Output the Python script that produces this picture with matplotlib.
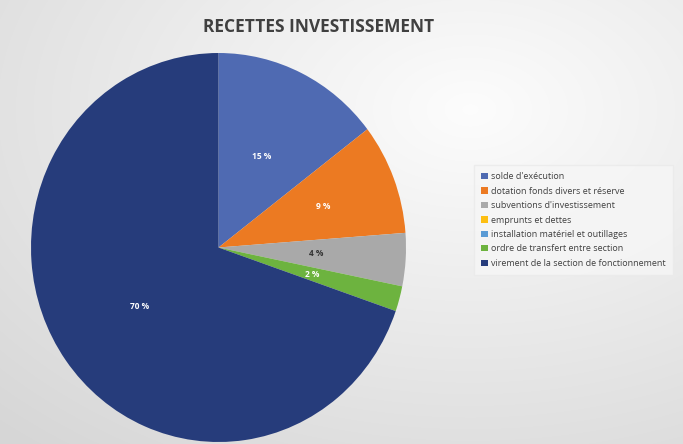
import numpy as np
import matplotlib.pyplot as plt
from matplotlib.patches import Patch

categories = ["solde d'exécution",
              "dotation fonds divers et réserve",
              "subventions d'investissement",
              "emprunts et dettes",
              "installation matériel et outillages",
              "ordre de transfert entre section",
              "virement de la section de fonctionnement"]
values = [14.6, 9.2, 4.4, 0.0, 0.0, 2.1, 69.7]
colors = ['#4F6AB2', '#EC7A22', '#A9A9A9', '#FDBF12', '#5A9BD5', '#6DB33F', '#263C7B']

plt.rcParams['font.family'] = ['Open Sans', 'DejaVu Sans']

fig = plt.figure(figsize=(6.83, 4.44), dpi=100)

# soft grey background gradient
bg = fig.add_axes([0, 0, 1, 1], zorder=-10)
yy, xx = np.mgrid[0:444, 0:683]
d = np.sqrt(((xx - 470) / 683) ** 2 + ((yy - 110) / 444) ** 2)
shade = 0.99 - 0.15 * np.clip(d, 0, 1)
bg.imshow(np.dstack([shade] * 3), aspect='auto', extent=[0, 1, 0, 1])
bg.axis('off')

# pie is slightly stretched vertically in the reference
ax = fig.add_axes([31 / 683, 2 / 444, 375 / 683, 389 / 444])


def pct(p):
    return '%.0f %%' % p if p > 0.5 else ''


wedges, texts, autotexts = ax.pie(values, colors=colors, startangle=90,
                                  counterclock=False, autopct=pct,
                                  pctdistance=0.52,
                                  textprops={'color': 'white', 'fontsize': 6,
                                             'fontweight': 'bold'})
ax.set_xlim(-1, 1)
ax.set_ylim(-1, 1)
ax.set_aspect('auto')

# label of the grey slice is dark, orange one sits further out
autotexts[2].set_color('#333333')
x, y = autotexts[1].get_position()
autotexts[1].set_position((x * 1.15, y * 1.15))

fig.text(0.466, 0.939, 'RECETTES INVESTISSEMENT', ha='center', va='center',
         fontsize=12.5, fontweight='bold', color='#404040')

handles = [Patch(facecolor=c, label=l) for c, l in zip(colors, categories)]
leg = fig.legend(handles=handles, loc='upper left', bbox_to_anchor=(0.694, 0.628),
                 fontsize=6.5, labelspacing=0.6, handlelength=0.7,
                 handleheight=0.7, handletextpad=0.4, frameon=True,
                 fancybox=False, borderpad=0.8, borderaxespad=0)
leg.get_frame().set_facecolor('#F6F6F6')
leg.get_frame().set_edgecolor('#EAEAEA')
for t in leg.get_texts():
    t.set_color('#404040')

fig.savefig('out.png', dpi=100)
